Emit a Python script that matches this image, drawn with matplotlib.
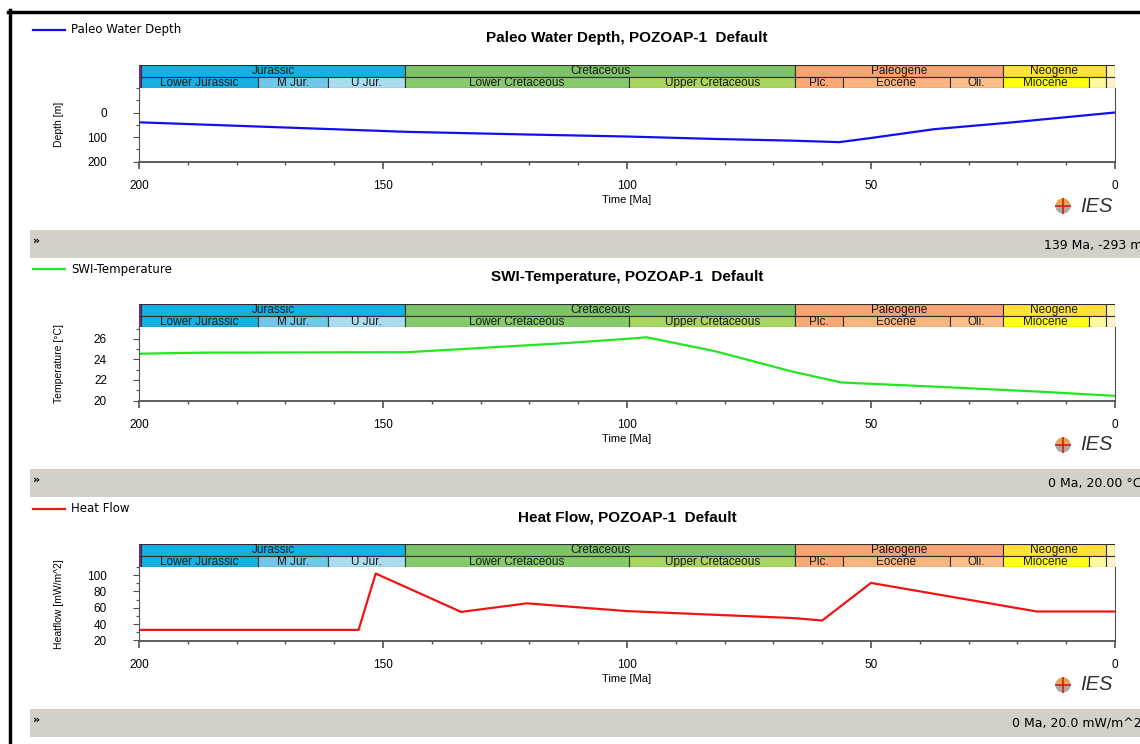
import numpy as np
import matplotlib
matplotlib.use('Agg')
import matplotlib.pyplot as plt
from matplotlib.patches import Rectangle, Wedge
from matplotlib.ticker import MultipleLocator

W, H = 1140, 744

# --- data ---
depth_age = [200, 176, 145, 120, 100, 82, 66, 56.5, 50, 37, 22, 0]
depth_m = [40, 57, 79, 90, 98, 108, 115, 121, 104, 68, 42, 0]

temp_age = [200, 188, 145, 112, 100, 96, 82, 66, 56, 37, 15, 0]
temp_c = [24.55, 24.65, 24.7, 25.6, 26.0, 26.15, 24.8, 22.8, 21.75, 21.35, 20.85, 20.45]

heat_age = [200, 155, 151.5, 134, 120.5, 100, 66, 60, 50, 16, 0]
heat_flow = [33, 33, 102, 55, 65.5, 56, 47.5, 44.5, 90.5, 55.5, 55.5]

# stratigraphic column (GTS2004 ages)
period_names = ['', 'Jurassic', 'Cretaceous', 'Paleogene', 'Neogene', '']
period_start = [251.0, 199.6, 145.5, 65.5, 23.03, 1.806]
period_end = [199.6, 145.5, 65.5, 23.03, 1.806, 0.0]
period_cols = ['#7d2a8c', '#12b2e4', '#7cc466', '#f9a272', '#ffe13a', '#fff6b0']

epoch_names = ['', 'Lower Jurassic', 'M Jur.', 'U Jur.', 'Lower Cretaceous', 'Upper Cretaceous',
               'Plc.', 'Eocene', 'Oli.', 'Miocene', '', '']
epoch_start = [251.0, 199.6, 175.6, 161.2, 145.5, 99.6, 65.5, 55.8, 33.9, 23.03, 5.332, 1.806]
epoch_end = [199.6, 175.6, 161.2, 145.5, 99.6, 65.5, 55.8, 33.9, 23.03, 5.332, 1.806, 0.0]
epoch_cols = ['#7d2a8c', '#18b0e2', '#70c8e8', '#aadcf0', '#86ca6c', '#a8d55e',
              '#f9aa74', '#fbb47e', '#fbbe88', '#ffff10', '#fff8a0', '#fff4c4']

x_ticks = [200, 150, 100, 50, 0]

fig = plt.figure(figsize=(W / 100, H / 100), dpi=100)
fig.patch.set_facecolor('white')


def box(x0, y0, x1, y1):
    return [x0 / W, 1 - y1 / H, (x1 - x0) / W, (y1 - y0) / H]


def fx(x):
    return x / W


def fy(y):
    return 1 - y / H


# frame
fig.add_artist(plt.Line2D([fx(8), 1], [fy(11.5), fy(11.5)], color='black', lw=2.5))
fig.add_artist(plt.Line2D([fx(9.5), fx(9.5)], [fy(10), 0], color='black', lw=2.5))

X0, X1 = 139, 1115


def panel(off, ages, vals, color, ylim, yticks, yminor, ylabel, title, legend, status):
    # legend + title
    fig.add_artist(plt.Line2D([fx(33), fx(65)], [fy(off + 30), fy(off + 30)], color=color, lw=1.6))
    fig.text(fx(71), fy(off + 30), legend, fontsize=8.5, family='DejaVu Sans', va='center', ha='left')
    fig.text(fx((X0 + X1) / 2), fy(off + 38), title, fontsize=11, family='Liberation Sans',
             fontweight='bold', ha='center', va='center')

    # strat column
    sa = fig.add_axes(box(X0, off + 65, X1, off + 88))
    sa.set_xlim(200, 0)
    sa.set_ylim(0, 2)
    sa.axis('off')
    for n, s, e, c in zip(period_names, period_start, period_end, period_cols):
        sa.add_patch(Rectangle((s, 1), e - s, 1, facecolor=c, edgecolor='#303030', lw=0.8))
        if n:
            sa.text((s + e) / 2, 1.45, n, ha='center', va='center', fontsize=8.5,
                    family='Liberation Sans', color='#1a1a1a', clip_on=True)
    for n, s, e, c in zip(epoch_names, epoch_start, epoch_end, epoch_cols):
        sa.add_patch(Rectangle((s, 0), e - s, 1, facecolor=c, edgecolor='#303030', lw=0.8))
        if n:
            sa.text((s + e) / 2, 0.45, n, ha='center', va='center', fontsize=8.5,
                    family='Liberation Sans', color='#1a1a1a', clip_on=True)

    # plot area
    ax = fig.add_axes(box(X0, off + 88, X1, off + 161.5))
    ax.plot(ages, vals, color=color, lw=1.6)
    ax.set_xlim(200, 0)
    ax.set_ylim(*ylim)
    ax.set_xticks(x_ticks)
    ax.set_xticklabels([str(t) for t in x_ticks])
    ax.xaxis.set_minor_locator(MultipleLocator(10))
    ax.set_yticks(yticks)
    ax.yaxis.set_minor_locator(MultipleLocator(yminor))
    ax.spines['top'].set_visible(False)
    for s in ['left', 'bottom', 'right']:
        ax.spines[s].set_color('#505050')
    ax.spines['bottom'].set_linewidth(1.3)
    ax.tick_params(axis='x', which='major', length=5, width=1.2, color='#505050',
                   pad=8, labelsize=8.5)
    ax.tick_params(axis='x', which='minor', length=2.5, width=1, color='#505050')
    ax.tick_params(axis='y', which='major', length=4, width=0.8, color='#505050',
                   pad=19, labelsize=8.5)
    ax.tick_params(axis='y', which='minor', length=2.5, width=0.8, color='#505050')
    for lab in ax.get_xticklabels() + ax.get_yticklabels():
        lab.set_family('Liberation Sans')
    ax.text(-0.082, 0.5, ylabel, transform=ax.transAxes, rotation=90, ha='center',
            va='center', fontsize=7.5, family='Liberation Sans')
    fig.text(fx((X0 + X1) / 2), fy(off + 200), 'Time [Ma]', fontsize=8,
             family='Liberation Sans', ha='center', va='center')

    # IES logo
    la = fig.add_axes(box(1055, off + 198, 1071, off + 214))
    la.set_xlim(-1, 1)
    la.set_ylim(-1, 1)
    la.axis('off')
    la.add_patch(Wedge((0, 0), 0.95, 20, 160, facecolor='#f0a040', edgecolor='none'))
    la.add_patch(Wedge((0, 0), 0.95, 160, 380, facecolor='#b0a8a0', edgecolor='none'))
    la.plot([-0.95, 0.95], [0.05, 0.05], color='#d02010', lw=1.2)
    la.plot([0, 0], [-0.95, 0.95], color='#d02010', lw=1.2)
    fig.text(fx(1080), fy(off + 206), 'IES', fontsize=14.5, style='italic',
             family='Liberation Sans', color='#303030', ha='left', va='center')

    # status bar
    fig.add_artist(Rectangle((fx(30), fy(off + 258)), 1 - fx(30), 28 / H,
                             transform=fig.transFigure, facecolor='#d4d0c8', edgecolor='none'))
    fig.text(fx(33), fy(off + 241), '\u00bb', fontsize=8, fontweight='bold',
             family='DejaVu Sans', ha='left', va='center')
    fig.text(fx(1142), fy(off + 245), status, fontsize=9, family='DejaVu Sans',
             ha='right', va='center')
    return ax


panel(0, depth_age, depth_m, '#1010ee', (200, -100), [0, 100, 200], 50,
      'Depth [m]', 'Paleo Water Depth, POZOAP-1  Default', 'Paleo Water Depth', '139 Ma, -293 m')
panel(239, temp_age, temp_c, '#22e622', (20, 27.15), [20, 22, 24, 26], 1,
      'Temperature [\u00b0C]', 'SWI-Temperature, POZOAP-1  Default', 'SWI-Temperature',
      '0 Ma, 20.00 \u00b0C')
panel(479, heat_age, heat_flow, '#f01414', (20, 110), [20, 40, 60, 80, 100], 10,
      'Heatflow [mW/m^2]', 'Heat Flow, POZOAP-1  Default', 'Heat Flow', '0 Ma, 20.0 mW/m^2')

fig.savefig('out.png', dpi=100)
